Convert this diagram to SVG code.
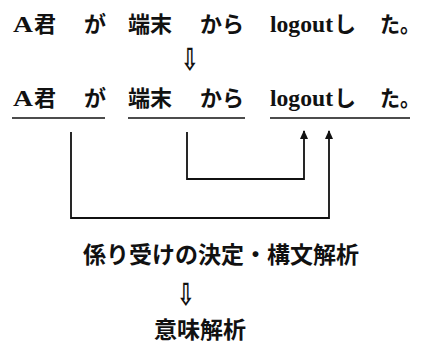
<svg xmlns="http://www.w3.org/2000/svg" width="423" height="345" viewBox="0 0 423 345">
<style>
text{font-family:"Liberation Serif","Noto Sans CJK JP",serif;font-size:22px;font-weight:bold;fill:#111}
.j{font-family:"Noto Sans CJK JP",sans-serif;font-weight:bold}
.l{font-family:"Liberation Serif",serif;font-size:24px;font-weight:bold}
.b{font-size:23px}
.ar{font-family:"DejaVu Sans",sans-serif;font-weight:bold;font-size:22px}
.u{stroke:#111;stroke-width:1.5}
.c{fill:none;stroke:#111;stroke-width:1.8}
</style>
<defs>
<marker id="ah" markerWidth="9" markerHeight="8" refX="8" refY="4" orient="auto" markerUnits="userSpaceOnUse" viewBox="0 0 9 8">
<path d="M0,0 L9,4 L0,8 Z" fill="#111"/>
</marker>
</defs>
<rect width="423" height="345" fill="#fff"/>
<g id="sentence1">
<text class="l" x="13" y="32" textLength="20" lengthAdjust="spacingAndGlyphs">A</text>
<text class="j" x="34" y="32">君</text>
<text class="j" x="84" y="32">が</text>
<text class="j" x="128" y="32">端末</text>
<text class="j" x="200" y="32">から</text>
<text class="l" x="270" y="32" textLength="63" lengthAdjust="spacingAndGlyphs">logout</text>
<text class="j" x="334" y="32">し</text>
<text class="j" x="380" y="32" textLength="40" lengthAdjust="spacingAndGlyphs">た。</text>
</g>
<g id="arrow1"><text class="ar" x="0" y="0" transform="translate(181,70) scale(0.95,1.4)">⇩</text></g>
<g id="sentence2">
<text class="l" x="13" y="106" textLength="20" lengthAdjust="spacingAndGlyphs">A</text>
<text class="j" x="34" y="106">君</text>
<text class="j" x="84" y="106">が</text>
<text class="j" x="128" y="106">端末</text>
<text class="j" x="200" y="106">から</text>
<text class="l" x="270" y="106" textLength="63" lengthAdjust="spacingAndGlyphs">logout</text>
<text class="j" x="334" y="106">し</text>
<text class="j" x="380" y="106" textLength="40" lengthAdjust="spacingAndGlyphs">た。</text>
<line class="u" x1="12" y1="118" x2="105" y2="118"/>
<line class="u" x1="128" y1="118" x2="245" y2="118"/>
<line class="u" x1="270" y1="118" x2="410" y2="118"/>
</g>
<g id="connectors">
<path class="c" d="M71,132 V218 H329 V131" marker-end="url(#ah)"/>
<path class="c" d="M187,132 V179 H304 V131" marker-end="url(#ah)"/>
</g>
<g id="parse"><text class="j b" x="83" y="263">係り受けの決定・構文解析</text></g>
<g id="arrow2"><text class="ar" x="0" y="0" transform="translate(177,305) scale(0.95,1.4)">⇩</text></g>
<g id="semantic"><text class="j b" x="154" y="338">意味解析</text></g>
</svg>
